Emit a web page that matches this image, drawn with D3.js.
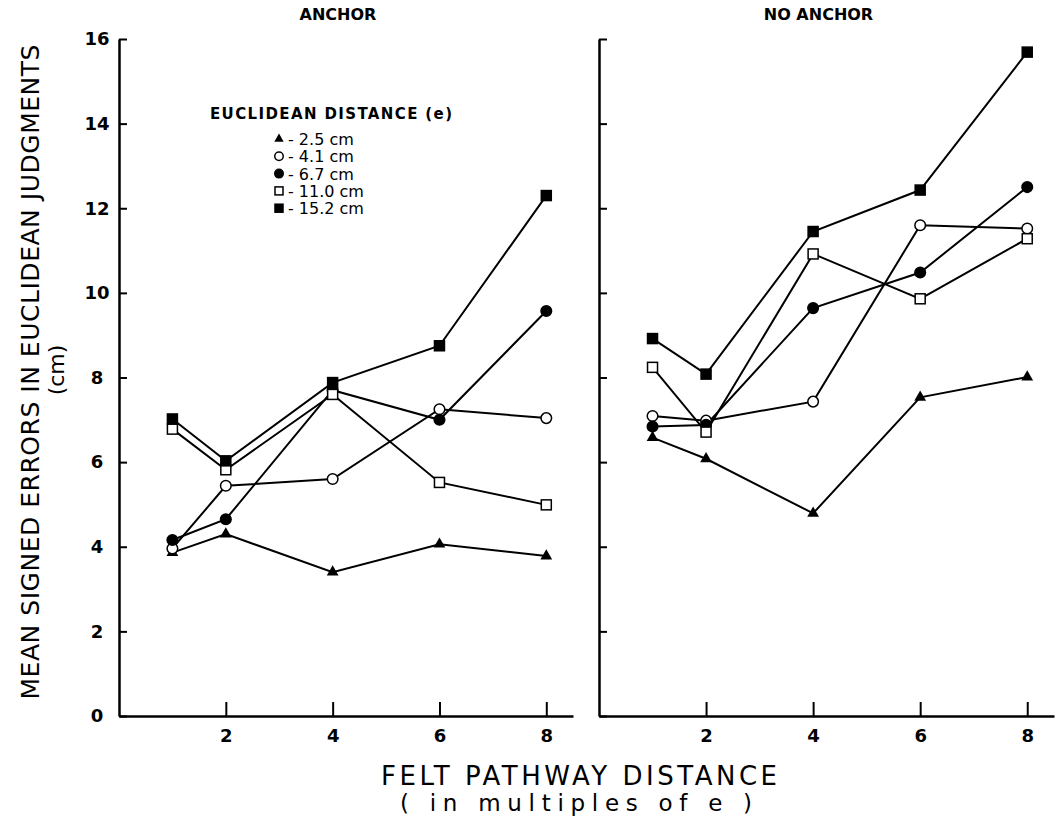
<!DOCTYPE html>
<html>
<head>
<meta charset="utf-8">
<script src="https://cdn.jsdelivr.net/npm/d3@7"></script>
<style>
  body { margin: 0; background: #fff; }
  text { font-family: "DejaVu Sans", "Liberation Sans", sans-serif; fill: #000; }
</style>
</head>
<body>
<svg id="chart" width="1060" height="817"></svg>
<script>
// felt pathway distance (multiples of e)
const xVals = [1, 2, 4, 6, 8];
const seriesNames = ["2.5 cm", "4.1 cm", "6.7 cm", "11.0 cm", "15.2 cm"];
const xTicks = [2, 4, 6, 8];
const yTicks = [0, 2, 4, 6, 8, 10, 12, 14, 16];

// ANCHOR panel
const anchor25  = [3.86, 4.30, 3.40, 4.06, 3.78];
const anchor41  = [3.96, 5.44, 5.60, 7.25, 7.04];
const anchor67  = [4.16, 4.65, 7.70, 7.00, 9.57];
const anchor110 = [6.78, 5.82, 7.60, 5.52, 4.99];
const anchor152 = [7.02, 6.03, 7.88, 8.75, 12.30];

// NO ANCHOR panel
const noAnchor25  = [6.58, 6.08, 4.79, 7.53, 8.01];
const noAnchor41  = [7.09, 6.98, 7.43, 11.60, 11.52];
const noAnchor67  = [6.84, 6.88, 9.64, 10.48, 12.50];
const noAnchor110 = [8.24, 6.71, 10.92, 9.86, 11.28];
const noAnchor152 = [8.92, 8.08, 11.45, 12.43, 15.69];

const svg = d3.select("#chart");
const markerStyle = ["triangle", "circleOpen", "circle", "squareOpen", "square"];

const y = d3.scaleLinear().domain([0, 16]).range([716, 39]);

const panels = [
  { title: "ANCHOR", x0: 119, x1: 573, series: [anchor25, anchor41, anchor67, anchor110, anchor152], labels: true },
  { title: "NO ANCHOR", x0: 599, x1: 1054, series: [noAnchor25, noAnchor41, noAnchor67, noAnchor110, noAnchor152], labels: false }
];

function drawMarker(g, kind, cx, cy, sc) {
  sc = sc || 1;
  if (kind === "triangle") {
    g.append("path").attr("d", d3.symbol().type(d3.symbolTriangle).size(60 * sc * sc)())
      .attr("transform", `translate(${cx},${cy})`).attr("fill", "#000");
  } else if (kind === "circle" || kind === "circleOpen") {
    g.append("circle").attr("cx", cx).attr("cy", cy).attr("r", 5.3 * sc)
      .attr("fill", kind === "circle" ? "#000" : "#fff").attr("stroke", "#000").attr("stroke-width", 1.5);
  } else {
    const h = 5 * sc;
    g.append("rect").attr("x", cx - h).attr("y", cy - h).attr("width", 2 * h).attr("height", 2 * h)
      .attr("fill", kind === "square" ? "#000" : "#fff").attr("stroke", "#000").attr("stroke-width", 1.5);
  }
}

panels.forEach(p => {
  const x = d3.scaleLinear().domain([0, 8.5]).range([p.x0, p.x1]);
  const g = svg.append("g");

  const yAxis = g.append("g").attr("transform", `translate(${p.x0},0)`)
    .call(d3.axisLeft(y).tickValues(yTicks).tickSize(-8).tickSizeOuter(0).tickPadding(14));
  yAxis.select(".domain").attr("stroke-width", 2.5);
  yAxis.selectAll(".tick line").attr("stroke-width", 2);
  if (p.labels) {
    yAxis.selectAll(".tick text").attr("text-anchor", "middle").attr("x", -22)
      .style("font-size", "18px").style("font-weight", "bold");
  } else {
    yAxis.selectAll(".tick text").remove();
  }

  const xAxis = g.append("g").attr("transform", `translate(0,${y(0)})`)
    .call(d3.axisBottom(x).tickValues(xTicks).tickSize(-14).tickSizeOuter(0).tickPadding(13));
  xAxis.select(".domain").attr("stroke-width", 2.5);
  xAxis.selectAll(".tick line").attr("stroke-width", 2);
  xAxis.selectAll(".tick text").style("font-size", "18px").style("font-weight", "bold");

  g.append("text").attr("x", (p.x0 + p.x1) / 2 - 8).attr("y", 20).attr("text-anchor", "middle")
    .style("font-size", "16px").style("font-weight", "bold").text(p.title);

  const line = d3.line().x((d, i) => x(xVals[i])).y(d => y(d));
  p.series.forEach(vals => {
    g.append("path").datum(vals).attr("d", line)
      .attr("fill", "none").attr("stroke", "#000").attr("stroke-width", 2);
  });
  p.series.forEach((vals, s) => {
    vals.forEach((v, i) => drawMarker(g, markerStyle[s], x(xVals[i]), y(v)));
  });
});

// legend
const lg = svg.append("g");
lg.append("text").attr("x", 210).attr("y", 119).attr("textLength", 242)
  .style("font-size", "15px").style("font-weight", "bold").text("EUCLIDEAN DISTANCE (e)");
seriesNames.forEach((name, i) => {
  const ly = 139 + i * 17.3;
  drawMarker(lg, markerStyle[i], 279, ly, 0.8);
  lg.append("text").attr("x", 288).attr("y", ly + 6)
    .style("font-size", "16px").text("- " + name);
});

// axis titles
svg.append("text").attr("transform", "translate(39,372) rotate(-90)").attr("text-anchor", "middle")
  .attr("textLength", 655).style("font-size", "25px").text("MEAN SIGNED ERRORS IN EUCLIDEAN JUDGMENTS");
svg.append("text").attr("transform", "translate(64,370) rotate(-90)").attr("text-anchor", "middle")
  .style("font-size", "22px").text("(cm)");
svg.append("text").attr("x", 579).attr("y", 785).attr("text-anchor", "middle")
  .attr("textLength", 396).style("font-size", "26px").text("FELT PATHWAY DISTANCE");
svg.append("text").attr("x", 576).attr("y", 811).attr("text-anchor", "middle")
  .attr("textLength", 352).style("font-size", "23px").text("( in multiples of  e )");
</script>
</body>
</html>
